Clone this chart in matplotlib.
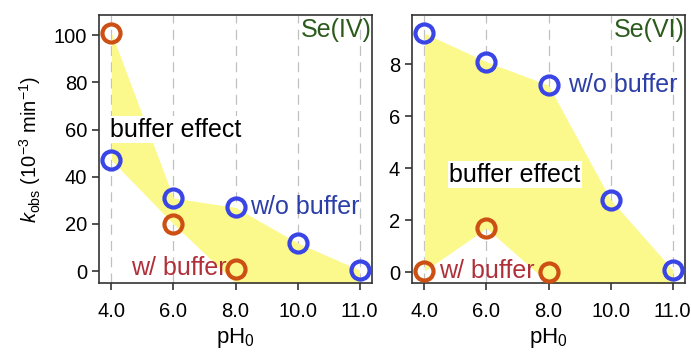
import matplotlib.pyplot as plt
import numpy as np

plt.rcParams['font.family'] = ['Liberation Sans', 'DejaVu Sans']
plt.rcParams['mathtext.fontset'] = 'custom'
plt.rcParams['mathtext.rm'] = 'Liberation Sans'
plt.rcParams['mathtext.it'] = 'Liberation Sans:italic'

# categories (pH0), evenly spaced on the axis
ph_labels = ['4.0', '6.0', '8.0', '10.0', '11.0']

# Se(IV) rate constants (10^-3 min^-1)
se4_without = [47, 31, 27, 12, 0.5]
se4_with = [101, 20, 1]

# Se(VI) rate constants (10^-3 min^-1)
se6_without = [9.2, 8.1, 7.2, 2.8, 0.1]
se6_with = [0.05, 1.7, 0.0]

blue = '#3a45e6'
orange = '#cc4f14'
yellow = '#fbf98c'


def panel(ax, without, with_buf, ylim, yticks, name, txt):
    x = np.arange(len(ph_labels))
    xw = x[:len(with_buf)]
    ymin = ylim[0]

    # yellow "buffer effect" band
    upper = [max(without[0], with_buf[0]), max(without[1], with_buf[1])] + list(without[2:])
    lower = [min(without[0], with_buf[0]), min(without[1], with_buf[1])] + [ymin] * (len(x) - 2)
    ax.fill_between(x, lower, upper, color=yellow, lw=0, zorder=1)

    for xi in x:
        ax.axvline(xi, color='#c0c0c0', ls=(0, (8, 5)), lw=0.9, zorder=0)

    ax.plot(x, without, 'o', ms=13, mfc='none', mec=blue, mew=3, zorder=4, clip_on=False)
    ax.plot(xw, with_buf, 'o', ms=13, mfc='none', mec=orange, mew=3, zorder=4, clip_on=False)

    ax.set_xlim(-0.2, 4.2)
    ax.set_ylim(*ylim)
    ax.set_xticks(x)
    ax.set_xticklabels(ph_labels)
    ax.set_yticks(yticks)
    ax.tick_params(direction='out', length=5, width=1.2, labelsize=14.5, color='#333333')
    ax.tick_params(axis='x', pad=9)
    for s in ax.spines.values():
        s.set_color('#333333')
        s.set_linewidth(1.2)
    ax.set_xlabel('pH$_0$', fontsize=16, labelpad=3)

    ax.text(1.0, 0.99, name, transform=ax.transAxes, ha='right', va='top',
            fontsize=18, color='#2b5a1c')
    ax.text(txt['be'][0], txt['be'][1], 'buffer effect', fontsize=18, color='black',
            va='center', ha='left', zorder=3,
            bbox=dict(facecolor='white', edgecolor='none', pad=1))
    ax.text(txt['wo'][0], txt['wo'][1], 'w/o buffer', fontsize=18, color='#2c3ea8',
            va='center', ha='left', zorder=5)
    ax.text(txt['w'][0], txt['w'][1], 'w/ buffer', fontsize=18, color='#b0303a',
            va='center', ha=txt['w'][2], zorder=5)


fig = plt.figure(figsize=(6.91, 3.52), dpi=100)
ax1 = fig.add_axes([99 / 691, 69 / 352, 273 / 691, 268 / 352])
ax2 = fig.add_axes([412 / 691, 69 / 352, 273 / 691, 268 / 352])

panel(ax1, se4_without, se4_with, (-5, 108.5), [0, 20, 40, 60, 80, 100], 'Se(IV)',
      {'be': (-0.02, 60), 'wo': (2.24, 27), 'w': (1.85, 1.5, 'right')})
panel(ax2, se6_without, se6_with, (-0.41, 9.9), [0, 2, 4, 6, 8], 'Se(VI)',
      {'be': (0.4, 3.75), 'wo': (2.31, 7.2), 'w': (0.24, 0.05, 'left')})

ax1.set_ylabel(r'$k_{\mathrm{obs}}$ (10$^{-3}$ min$^{-1}$)', fontsize=14.5, labelpad=8)

fig.savefig('out.png', dpi=100)
